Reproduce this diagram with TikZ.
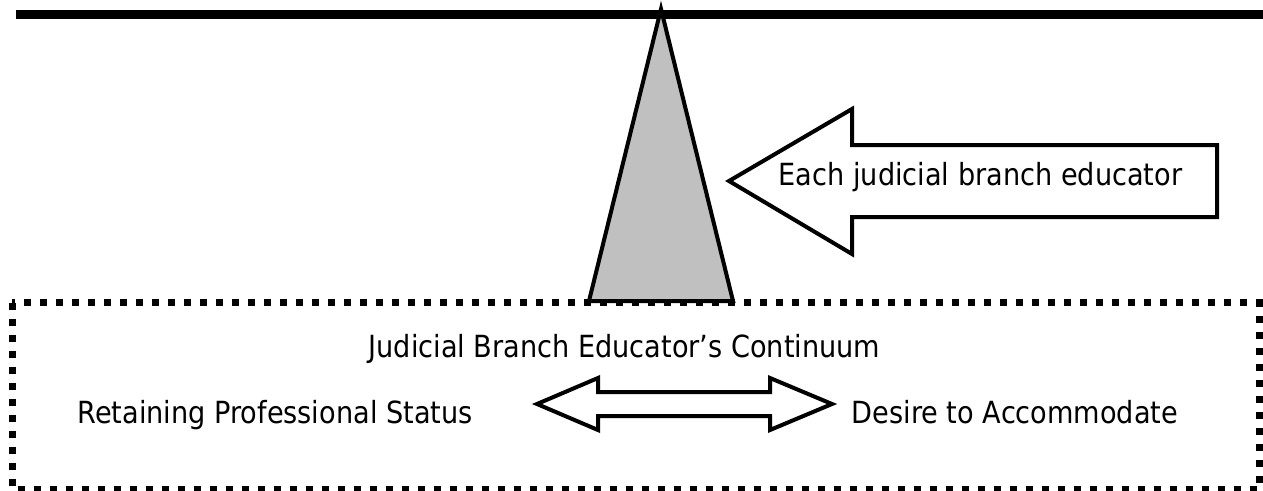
\documentclass[tikz,border=0pt]{standalone}
\usepackage{fontspec}
\setmainfont{DejaVu Sans}[FakeStretch=0.89]
\definecolor{wedgegray}{HTML}{C0C0C0}
\begin{document}
\begin{tikzpicture}[x=1pt,y=-1pt,
  lbl/.style={anchor=base,inner sep=0pt,font=\fontsize{30.5}{36}\selectfont},
  outline/.style={draw=black,line width=4pt,line join=miter,fill=white},
  dotbox/.style={draw=black,line width=7pt,dash pattern=on 7pt off 9pt}]
\useasboundingbox (0,0) rectangle (1263,490);
% beam
\draw[line width=9pt] (16,14.5) -- (1263,14.5);
% fulcrum wedge
\draw[line width=4pt,fill=wedgegray,line join=miter] (661,9) -- (733,301) -- (589,301) -- cycle;
% continuum box
\draw[dotbox] (12,302.5) rectangle (1259,489);
% left arrow
\draw[outline] (729,181) -- (852,109) -- (852,145) -- (1217,145) -- (1217,217) -- (852,217) -- (852,254) -- cycle;
% double arrow
\draw[outline] (537,404) -- (598,378) -- (598,392) -- (770,392) -- (770,378) -- (832,404) -- (770,430) -- (770,416) -- (598,416) -- (598,430) -- cycle;
% labels
\node[lbl] (each) at (980.5,185) {Each judicial branch educator};
\node[lbl] (cont) at (624.5,357) {Judicial Branch Educator’s Continuum};
\node[lbl] (ret) at (275,423) {Retaining Professional Status};
\node[lbl] (des) at (1015,423) {Desire to Accommodate};
\end{tikzpicture}
\end{document}
